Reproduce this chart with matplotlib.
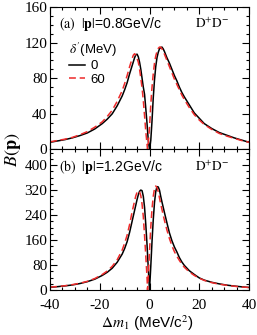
import numpy as np
import matplotlib
matplotlib.use("Agg")
from matplotlib import pyplot as plt
from matplotlib.ticker import MultipleLocator

plt.rcParams['font.family'] = ['Liberation Serif', 'DejaVu Serif']
plt.rcParams['mathtext.fontset'] = 'stix'
plt.rcParams['axes.unicode_minus'] = False

# (a) |p| = 0.8 GeV/c
xa_0 = [-40, -37, -34, -31, -28, -25, -22, -19, -17, -15, -13, -11, -10, -9, -8, -7, -6, -5.5, -5,
        -4.5, -4, -3.5, -3, -2.5, -2, -1.5, -1, -0.5, 0, 0.5, 1, 1.5, 2, 2.5, 3, 3.5, 4, 4.5, 5,
        5.5, 6, 7, 8, 9, 10, 11, 12, 13, 14, 16, 18, 20, 22, 25, 28, 31, 34, 37, 40]
ya_0 = [8, 9.5, 11, 13, 15.5, 18.5, 23, 29, 34, 40, 49, 60, 67, 75, 85, 94, 103, 106.5, 107,
        104, 98, 90, 80, 70, 62, 46, 29, 10, 0, 10, 32, 58, 78, 93, 103, 109, 113, 114.5, 115,
        113, 110, 103, 97, 90, 83, 77, 70, 64, 59, 50, 41, 35, 29, 23.5, 19, 16, 13, 10.5, 8]
xa_60 = [-40, -37, -34, -31, -28, -25, -22, -19, -17, -15, -13, -11, -10, -9, -8, -7, -6.5, -6,
         -5.5, -5, -4.5, -4, -3.5, -3, -2.5, -2, -1.5, -1, -0.8, -0.5, 0, 0.5, 1, 1.5, 2, 2.5,
         3, 3.5, 4, 4.5, 5, 6, 7, 8, 9, 10, 11, 12, 13, 14, 16, 18, 20, 22, 25, 28, 31, 34, 37, 40]
ya_60 = [8.5, 10, 11.5, 13.5, 16.5, 20, 25, 31, 37, 44, 54, 66, 74, 83, 93, 102, 106, 107.5,
         106, 102, 98, 90, 80, 69, 55, 38, 20, 6, 0, 7, 25, 50, 70, 85, 97, 105,
         110, 113.5, 115, 115, 113, 107, 100, 93, 86, 79, 73, 67, 61, 56, 47, 39, 33, 28, 22.5,
         18, 15, 12.5, 10, 8]

# (b) |p| = 1.2 GeV/c
xb_0 = [-40, -37, -34, -31, -28, -25, -22, -19, -17, -15, -13, -11, -10, -9, -8, -7, -6, -5,
        -4.5, -4, -3.5, -3, -2.5, -2, -1.5, -1, -0.5, 0, 0.5, 1, 1.5, 2, 2.5, 3, 3.5, 4, 4.5,
        5, 5.5, 6, 7, 8, 9, 10, 11, 12, 13, 14, 16, 18, 20, 22, 25, 28, 31, 34, 37, 40]
yb_0 = [9, 11, 13.5, 16.5, 21, 27, 35, 47, 57, 70, 89, 115, 133, 155, 185, 220, 255, 290,
        305, 316, 320, 318, 300, 265, 210, 145, 70, 0, 75, 155, 225, 280, 315, 331, 330, 320, 300,
        282, 265, 248, 215, 183, 158, 138, 122, 104, 90, 79, 62, 50, 39, 32, 25, 20, 16, 13, 10.5, 8.5]
xb_60 = [-40, -37, -34, -31, -28, -25, -22, -19, -17, -15, -13, -11, -10, -9, -8, -7, -6, -5.5,
         -5, -4.5, -4, -3.5, -3, -2.5, -2, -1.5, -1, -0.8, -0.5, 0, 0.5, 1, 1.5, 2, 2.5, 3,
         3.5, 4, 4.5, 5, 5.5, 6, 7, 8, 9, 10, 11, 12, 13, 14, 16, 18, 20, 22, 25, 28, 31, 34, 37, 40]
yb_60 = [9.5, 11.5, 14, 17.5, 22, 28, 37, 50, 61, 76, 97, 128, 150, 176, 210, 250, 285, 302,
         313, 318, 315, 302, 275, 235, 175, 110, 40, 0, 45, 125, 200, 260, 300, 325, 333, 328,
         315, 295, 275, 258, 240, 223, 192, 165, 142, 123, 108, 95, 83, 73, 58, 47, 38, 31, 24,
         19, 15.5, 12.5, 10, 8.5]

red = '#ee2a2a'
sans = 'Liberation Sans'

fig = plt.figure(figsize=(2.57, 3.35), dpi=100)
ax1 = fig.add_axes([0.1946, 0.554, 0.7744, 0.425])
ax2 = fig.add_axes([0.1946, 0.134, 0.7744, 0.420])

for ax in (ax1, ax2):
    ax.set_xlim(-40, 40)
    ax.xaxis.set_major_locator(MultipleLocator(20))
    ax.xaxis.set_minor_locator(MultipleLocator(5))
    ax.tick_params(which='both', direction='in', top=True, right=True, width=0.8,
                   labelsize=11, pad=2)
    ax.tick_params(axis='x', pad=6.5)
    ax.tick_params(which='major', length=5)
    ax.tick_params(which='minor', length=2.5)
    for s in ax.spines.values():
        s.set_linewidth(0.8)

ax1.plot(xa_0, ya_0, color='black', lw=1.1, label='0')
ax1.plot(xa_60, ya_60, color=red, lw=1.1, ls=(0, (4.5, 2.5)), label='60')
ax1.set_ylim(0, 160)
ax1.yaxis.set_major_locator(MultipleLocator(40))
ax1.yaxis.set_minor_locator(MultipleLocator(10))
ax1.tick_params(labelbottom=False)

ax2.plot(xb_0, yb_0, color='black', lw=1.1)
ax2.plot(xb_60, yb_60, color=red, lw=1.1, ls=(0, (4.5, 2.5)))
ax2.set_ylim(0, 450)
ax2.yaxis.set_major_locator(MultipleLocator(80))
ax2.yaxis.set_minor_locator(MultipleLocator(20))

ax1.text(0.045, 0.85, r'$\mathrm{(a)}\ \ |\mathbf{p}|$=0.8GeV/c', transform=ax1.transAxes,
         family=sans, fontsize=10)
ax1.text(0.9, 0.85, r'$\mathrm{D^{+}D^{-}}$', transform=ax1.transAxes, fontsize=9.5, ha='right')
ax2.text(0.045, 0.85, r'$\mathrm{(b)}\ \ |\mathbf{p}|$=1.2GeV/c', transform=ax2.transAxes,
         family=sans, fontsize=10)
ax2.text(0.9, 0.85, r'$\mathrm{D^{+}D^{-}}$', transform=ax2.transAxes, fontsize=9.5, ha='right')

leg = ax1.legend(loc='upper left', bbox_to_anchor=(0.055, 0.82), frameon=False,
                 title=r'$\delta^{\prime}$(MeV)', prop={'family': sans, 'size': 9.5},
                 handlelength=1.2, handletextpad=0.45, labelspacing=0.1, borderpad=0.1,
                 alignment='left')
leg.get_title().set_fontfamily(sans)
leg.get_title().set_fontsize(9.5)

fig.text(0.05, 0.554, r'$B(\mathbf{p})$', rotation=90, ha='center', va='center', fontsize=13)
fig.text(0.575, 0.036, r'$\Delta m_1$ (MeV/c$^2$)', ha='center', va='center',
         family=sans, fontsize=11)

fig.savefig('out.png', dpi=100)
